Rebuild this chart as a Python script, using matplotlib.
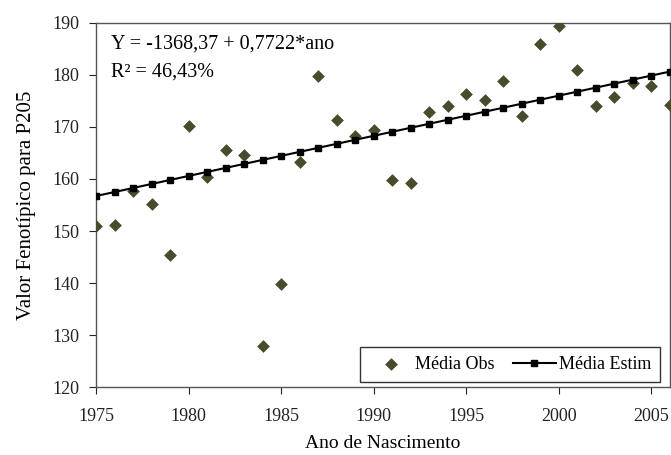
import matplotlib
matplotlib.use("Agg")
import matplotlib.pyplot as plt
import numpy as np

plt.rcParams['font.family'] = ['Liberation Serif', 'DejaVu Serif']

anos = list(range(1975, 2007))
media_obs = [151.0, 151.1, 157.6, 155.1, 145.3, 170.1, 160.3, 165.6, 164.6, 127.9,
             139.9, 163.2, 179.8, 171.3, 168.3, 169.4, 159.8, 159.2, 172.8, 174.0,
             176.4, 175.1, 178.8, 172.2, 186.0, 189.4, 181.0, 174.1, 175.7, 178.5,
             177.9, 174.3]
intercepto = -1368.37
coef = 0.7722
xticks = [1975, 1980, 1985, 1990, 1995, 2000, 2005]
yticks = [120, 130, 140, 150, 160, 170, 180, 190]

anos_arr = np.array(anos)
media_estim = intercepto + coef * anos_arr

fig = plt.figure(figsize=(6.71, 4.55), dpi=100)
ax = fig.add_axes([96/671, 1-387/455, (670-96)/671, (387-23)/455])

ax.scatter(anos, media_obs, marker='D', s=42, color='#4a4a2c', zorder=3,
           label='Média Obs', linewidths=0)
ax.plot(anos_arr, media_estim, color='black', lw=1.5, marker='s', markersize=5,
        label='Média Estim', zorder=4)

ax.set_xlim(1975, 2006)
ax.set_ylim(120, 190)
ax.set_xticks(xticks)
ax.set_yticks(yticks)
ax.tick_params(direction='out', length=5, labelsize=13, colors='#222222')
ax.tick_params(axis='x', pad=10)
ax.tick_params(axis='y', pad=7)
for s in ax.spines.values():
    s.set_color('#555555')
    s.set_linewidth(1)

ax.set_xlabel('Ano de Nascimento', fontsize=14, labelpad=7)
ax.set_ylabel('Valor Fenotípico para P205', fontsize=15, labelpad=12)

ax.text(0.027, 0.93, 'Y = -1368,37 + 0,7722*ano', transform=ax.transAxes,
        fontsize=14.5, va='baseline', ha='left')
ax.text(0.027, 0.853, 'R² = 46,43%', transform=ax.transAxes,
        fontsize=14.5, va='baseline', ha='left')

leg = ax.legend(loc='lower right', ncol=2, fontsize=13, frameon=True, fancybox=False,
                edgecolor='#333333', framealpha=1, handlelength=2.4, columnspacing=1.0,
                handletextpad=0.15, borderpad=0.5, borderaxespad=0,
                bbox_to_anchor=((660-96)/574, (387-382)/364))
leg.get_frame().set_linewidth(1)

fig.savefig('out.png', dpi=100)
